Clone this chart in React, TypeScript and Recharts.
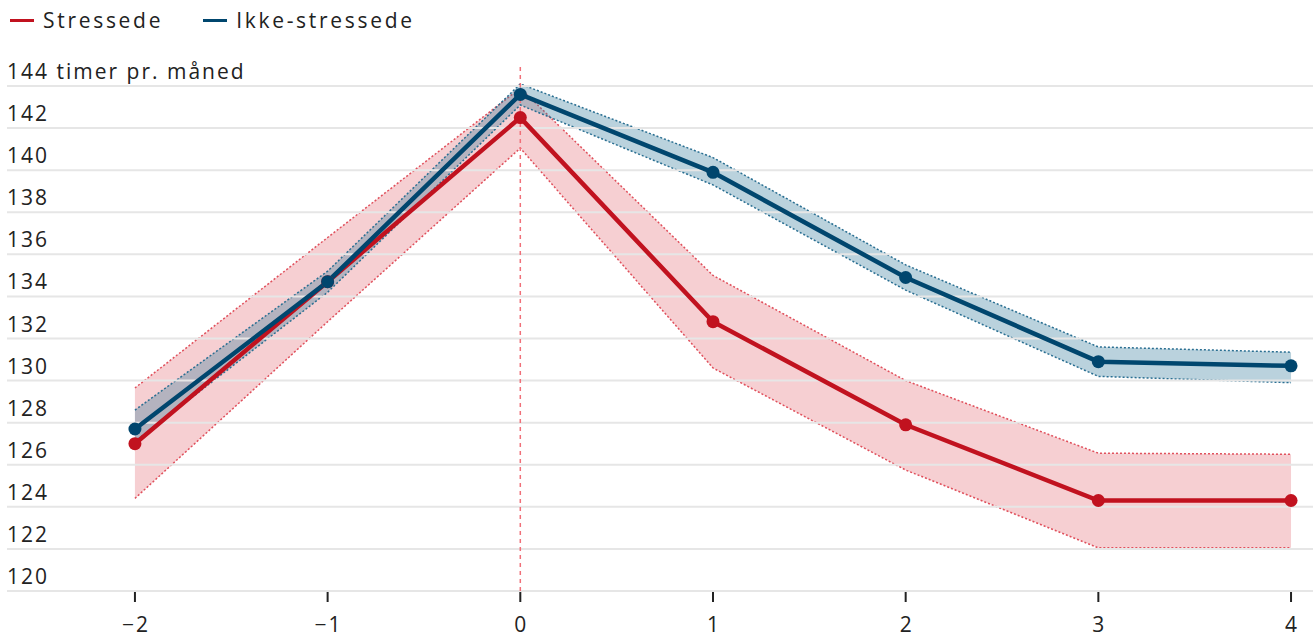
import {
  Area,
  ComposedChart,
  Line,
  ReferenceLine,
  XAxis,
  YAxis,
} from "recharts";

const months = [-2, -1, 0, 1, 2, 3, 4];

const stressed = [127.0, 134.7, 142.5, 132.8, 127.9, 124.3, 124.3];
const stressedLow = [124.4, 132.8, 141.05, 130.6, 125.75, 122.05, 122.05];
const stressedHigh = [129.65, 136.8, 143.9, 135.0, 130.0, 126.55, 126.5];

const notStressed = [127.7, 134.7, 143.6, 139.9, 134.9, 130.9, 130.7];
const notStressedLow = [127.1, 134.2, 143.1, 139.3, 134.3, 130.2, 129.9];
const notStressedHigh = [128.6, 135.2, 144.1, 140.6, 135.5, 131.6, 131.35];

const yTicks = [120, 122, 124, 126, 128, 130, 132, 134, 136, 138, 140, 142, 144];

const RED = "#c1121f";
const BLUE = "#00466e";
const FONT = "'Open Sans', sans-serif";

const data = months.map((m, i) => ({
  month: m,
  stressed: stressed[i],
  stressedBand: [stressedLow[i], stressedHigh[i]],
  notStressed: notStressed[i],
  notStressedBand: [notStressedLow[i], notStressedHigh[i]],
}));

function YTick({ y, payload }: any) {
  const label = payload.value === 144 ? "144 timer pr. måned" : String(payload.value);
  return (
    <text
      x={7}
      y={y - 7}
      fill="#222"
      fontSize={21}
      fontFamily={FONT}
      letterSpacing={2}
      textAnchor="start"
    >
      {label}
    </text>
  );
}

function XTick({ x, y, payload }: any) {
  const label = payload.value < 0 ? `\u2212${Math.abs(payload.value)}` : String(payload.value);
  return (
    <g>
      <line x1={x} x2={x} y1={y + 1} y2={y + 11} stroke="#222" strokeWidth={2} />
      <text
        x={x + 1}
        y={y + 41}
        fill="#222"
        fontSize={21}
        fontFamily={FONT}
        letterSpacing={2}
        textAnchor="middle"
      >
        {label}
      </text>
    </g>
  );
}

function LegendBox() {
  const items = [
    { label: "Stressede", color: RED },
    { label: "Ikke-stressede", color: BLUE },
  ];
  return (
    <div
      style={{
        position: "absolute",
        top: 7,
        left: 10,
        display: "flex",
        gap: 40,
        fontFamily: FONT,
        fontSize: 21,
        letterSpacing: 2.7,
        lineHeight: "26px",
        color: "#222",
      }}
    >
      {items.map((it) => (
        <div key={it.label} style={{ display: "flex", alignItems: "center", gap: 9 }}>
          <span style={{ width: 24, height: 3, background: it.color, display: "inline-block" }} />
          <span>{it.label}</span>
        </div>
      ))}
    </div>
  );
}

export default function App() {
  return (
    <div style={{ position: "absolute", left: 0, top: 0, width: 1313, height: 637, background: "#fff" }}>
      <ComposedChart
        width={1313}
        height={637}
        data={data}
        margin={{ top: 65, right: 0, bottom: 0, left: 6 }}
      >
        <XAxis
          dataKey="month"
          type="number"
          domain={[-2.664, 4.114]}
          ticks={months}
          allowDataOverflow
          axisLine={false}
          tickLine={false}
          tickSize={0}
          tickMargin={0}
          tick={<XTick />}
          height={46}
        />
        <YAxis
          type="number"
          domain={[120, 145]}
          ticks={yTicks}
          interval={0}
          allowDataOverflow
          axisLine={false}
          tickLine={false}
          tick={<YTick />}
          width={1}
        />
        {yTicks.map((t) => (
          <ReferenceLine key={t} y={t} stroke="#e6e6e6" strokeWidth={2} />
        ))}
        <ReferenceLine x={0} stroke="#f07079" strokeWidth={1.5} strokeDasharray="4 4" />
        <Area
          dataKey="stressedBand"
          type="linear"
          stroke="#e0505c"
          strokeWidth={1.5}
          strokeDasharray="2 2"
          fill="#e0606b"
          fillOpacity={0.3}
          isAnimationActive={false}
          activeDot={false}
        />
        <Area
          dataKey="notStressedBand"
          type="linear"
          stroke="#2a6f92"
          strokeWidth={1.5}
          strokeDasharray="2 2"
          fill="#3a7f9f"
          fillOpacity={0.35}
          isAnimationActive={false}
          activeDot={false}
        />
        <Line
          dataKey="stressed"
          type="linear"
          stroke={RED}
          strokeWidth={4.5}
          dot={{ r: 6.5, fill: RED, stroke: RED, strokeWidth: 0 }}
          isAnimationActive={false}
        />
        <Line
          dataKey="notStressed"
          type="linear"
          stroke={BLUE}
          strokeWidth={4.5}
          dot={{ r: 6.5, fill: BLUE, stroke: BLUE, strokeWidth: 0 }}
          isAnimationActive={false}
        />
      </ComposedChart>
      <LegendBox />
    </div>
  );
}
